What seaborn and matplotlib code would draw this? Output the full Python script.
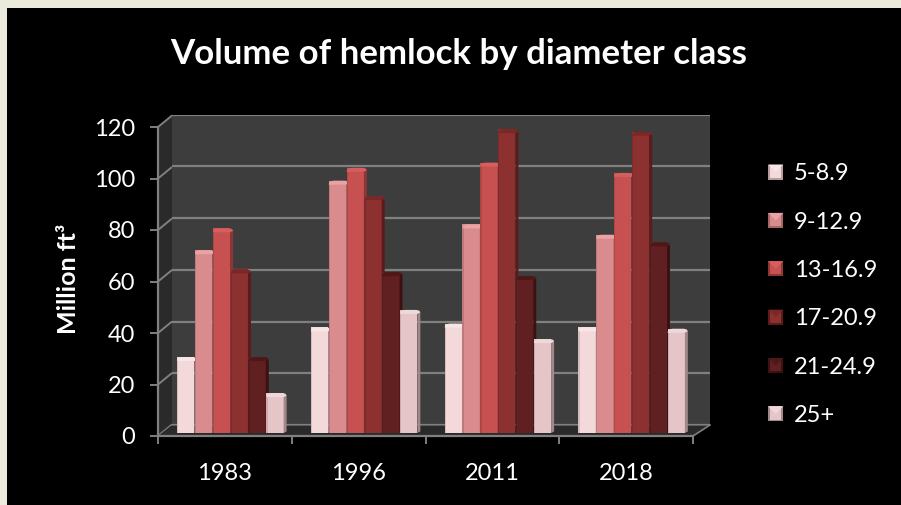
import matplotlib
matplotlib.use("Agg")
import matplotlib.pyplot as plt
import seaborn as sns
import pandas as pd
from matplotlib.patches import Polygon, Rectangle, Patch
from matplotlib.legend_handler import HandlerBase
from matplotlib.ticker import FixedLocator

years = ["1983", "1996", "2011", "2018"]
classes = ["5-8.9", "9-12.9", "13-16.9", "17-20.9", "21-24.9", "25+"]
class_5 = [29.5, 41, 42.5, 41]
class_9 = [71, 98, 81, 77]
class_13 = [79.5, 103, 105, 101]
class_17 = [63.5, 92, 118, 117]
class_21 = [29.5, 62.5, 61, 74]
class_25 = [15.5, 47.8, 36.5, 40.5]
series = [class_5, class_9, class_13, class_17, class_21, class_25]
yticks = [0, 20, 40, 60, 80, 100, 120]
title = "Volume of hemlock by diameter class"
ylabel = "Million ft³"

face = ["#F3D9DA", "#D98B8D", "#C65150", "#8C3130", "#601F20", "#E6C5C8"]
side = ["#B49D9F", "#A66768", "#8E3635", "#5C1A1A", "#3D1011", "#A08789"]
cap = ["#F8E6E6", "#E9A3A4", "#D65E5D", "#7C2727", "#4E1718", "#EFD8DA"]
grey = "#808080"

W, H = 901, 505
sns.set_theme(style="white")
plt.rcParams["font.family"] = ["Lato", "DejaVu Sans"]
fig = plt.figure(figsize=(W / 100, H / 100), dpi=100, facecolor="#ECE9DD")


def px_axes(l, t, r, b, **kw):
    return fig.add_axes([l / W, 1 - b / H, (r - l) / W, (b - t) / H], **kw)


# backdrop, side wall and floor in pixel space
bg = px_axes(0, 0, W, H)
bg.set_xlim(0, W)
bg.set_ylim(H, 0)
bg.axis("off")
bg.set_zorder(0)
bg.add_patch(Rectangle((7, 8), W - 7, H - 8, color="black", lw=0))
bg.add_patch(Polygon([(158, 127), (172, 114.5), (172, 425), (158, 436)], color="#2A2A2A", lw=0))
for v in yticks:
    y = 436 - 309 / 120 * v
    bg.plot([158, 172], [y, y - 11.5], color=grey, lw=1.4, solid_capstyle="butt")

# back wall
wall = px_axes(172, 114.5, 710, 425)
wall.set_zorder(1)
wall.set_facecolor("#3D3D3D")
wall.set_ylim(0, 120)
wall.set_xticks([])
wall.set_yticks(yticks)
wall.tick_params(left=False, labelleft=False)
wall.grid(axis="y", color=grey, lw=1.6)
sns.despine(ax=wall, left=True, bottom=True, right=True, top=True)

# floor above the wall edge
floor = px_axes(0, 0, W, H)
floor.set_xlim(0, W)
floor.set_ylim(H, 0)
floor.axis("off")
floor.set_zorder(1.5)
floor.add_patch(Polygon([(158, 436), (172, 425), (710, 425), (693, 436)], color="#2A2A2A", lw=0))
floor.plot([172, 710], [425, 425], color=grey, lw=1.4, alpha=0.6)
floor.plot([693, 710], [436, 425], color=grey, lw=1.2)

# bars
df = pd.DataFrame(
    [(y, c, vals[i]) for c, vals in zip(classes, series) for i, y in enumerate(years)],
    columns=["year", "cls", "value"],
)
bx = px_axes(163.5, 124, 698.5, 433)
bx.patch.set_alpha(0)
bx.set_zorder(2)
sns.barplot(
    data=df, x="year", y="value", hue="cls", order=years, hue_order=classes,
    palette=face, width=0.8, gap=0.03, saturation=1, legend=False, ax=bx, linewidth=0,
)
bx.set_xlim(-0.5, 3.5)
bx.set_ylim(0, 120)
bx.axis("off")
pxx = 4 / 535  # data units of x per pixel
pxy = 120 / 309
n = len(years)
for idx, p in enumerate(list(bx.patches)[: n * len(classes)]):
    k = idx // n
    z = 3 + k
    x0, w, top = p.get_x(), p.get_width(), p.get_height()
    x1 = x0 + w
    p.set_zorder(z)
    # right side face
    bx.add_patch(Polygon(
        [(x1, 0), (x1 + 3 * pxx, 1.5 * pxy), (x1 + 3 * pxx, top - 2.5 * pxy), (x1, top - 3 * pxy)],
        color=side[k], lw=0, zorder=z))
    # soft darkening along the left edge
    bx.add_patch(Rectangle((x0, 0), 1.2 * pxx, top - 3 * pxy, color="black", alpha=0.12, lw=0, zorder=z))
    # domed top cap
    bx.add_patch(Polygon(
        [(x0, top - 4 * pxy), (x0 + 0.5 * pxx, top - 2 * pxy), (x0 + 2 * pxx, top - 0.6 * pxy),
         (x0 + 5 * pxx, top), (x1 - 1 * pxx, top), (x1 + 2 * pxx, top - 0.8 * pxy),
         (x1 + 3 * pxx, top - 2.5 * pxy), (x1, top - 4 * pxy)],
        color=cap[k], lw=0, zorder=z))

# front axis with ticks and labels
ax = px_axes(158, 127, 693, 436)
ax.patch.set_alpha(0)
ax.set_zorder(3)
ax.set_xlim(-0.5, 3.5)
ax.set_ylim(0, 120)
ax.xaxis.set_major_locator(FixedLocator([-0.5, 0.5, 1.5, 2.5, 3.5]))
ax.set_xticklabels([])
ax.set_xticks(range(len(years)), labels=years, minor=True)
ax.set_yticks(yticks)
ax.tick_params(axis="y", which="major", color=grey, width=1.4, length=5.5, left=True,
               labelcolor="white", labelsize=17, pad=11)
ax.tick_params(axis="x", which="major", color=grey, width=1.4, length=5.5, bottom=True)
ax.tick_params(axis="x", which="minor", length=0, bottom=False, labelcolor="white", labelsize=17, pad=19.5)
sns.despine(ax=ax)
for s in ("left", "bottom"):
    ax.spines[s].set_color(grey)
    ax.spines[s].set_linewidth(1.6)


class Bevel(HandlerBase):
    def create_artists(self, legend, h, xd, yd, width, height, fontsize, trans):
        k = classes.index(h.get_label())
        s = 15 * 0.72
        e = s * 0.12
        x0, y0 = -xd, -yd + (height - s) / 2
        x1, y1 = x0 + s, y0 + s
        cx, cy = x0 + s / 2, y0 + s / 2
        parts = [
            ([(x0, y0), (x1, y0), (x1, y1), (x0, y1)], side[k]),
            ([(x0 + e, y0 + e), (x1 - e, y0 + e), (x1 - e, y1), (x0 + e, y1)], face[k]),
            ([(x0, y1), (x1, y1), (cx, cy)], cap[k]),
        ]
        return [Polygon(pts, closed=True, facecolor=c, lw=0, transform=trans) for pts, c in parts]


handles = [Patch(color=face[k], label=c) for k, c in enumerate(classes)]
leg = fig.legend(
    handles=handles, labels=classes, loc="upper left", bbox_to_anchor=(760 / W, 1 - 155 / H),
    frameon=False, fontsize=17, labelcolor="white", handlelength=0.64, handleheight=0.7,
    handletextpad=0.44, labelspacing=1.16, borderaxespad=0, borderpad=0.35,
    handler_map={Patch: Bevel()},
)
leg.set_zorder(5)

fig.text(459 / W, 1 - 54 / H, title, color="white", fontsize=25.1, fontweight="bold",
         ha="center", va="center", zorder=6)
fig.text(68 / W, 1 - 279 / H, ylabel, color="white", fontsize=18, fontweight="bold",
         rotation=90, ha="center", va="center", zorder=6)

fig.savefig("out.png", dpi=100, facecolor=fig.get_facecolor())
